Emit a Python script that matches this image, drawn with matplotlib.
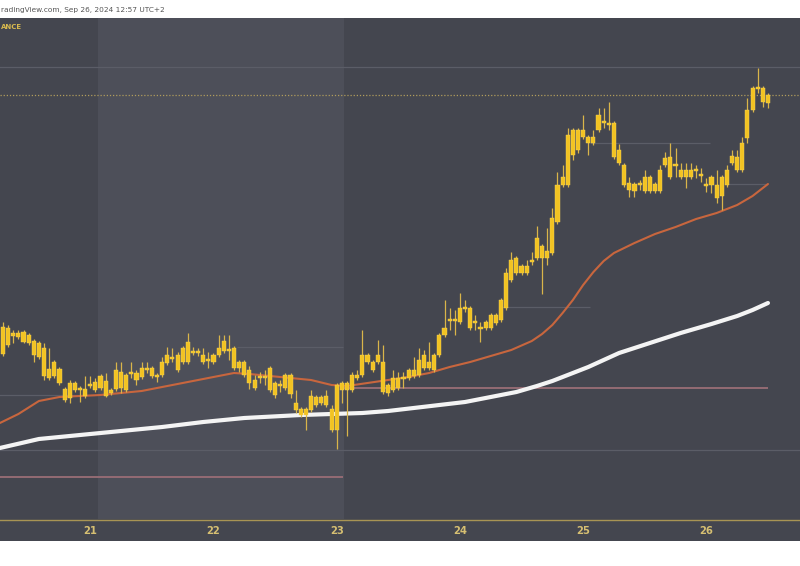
import matplotlib
matplotlib.use("Agg")
import matplotlib.pyplot as plt
import numpy as np

# Hourly candles, Sep 20 07:00 -> Sep 26 12:00 (index 0 .. 149)
opens = [246, 255, 264, 267, 268, 265, 259, 257, 252, 222, 238, 231, 200, 202, 217, 212, 204, 214, 210, 224,
         219, 207, 211, 228, 210, 228, 220, 223, 230, 232, 223, 225, 237, 243, 230, 238, 258, 249, 247, 245,
         239, 238, 245, 249, 251, 252, 238, 238, 230, 212, 222, 224, 232, 205, 214, 212, 225, 197, 191, 185,
         190, 203, 197, 204, 191, 170, 210, 217, 210, 222, 225, 245, 230, 238, 238, 207, 210, 212, 221, 222,
         224, 225, 232, 238, 230, 245, 265, 279, 281, 278, 291, 292, 277, 273, 272, 272, 277, 280, 292, 320,
         342, 327, 327, 338, 342, 354, 342, 347, 378, 415, 415, 470, 450, 470, 463, 457, 470, 479, 477, 477,
         450, 435, 417, 409, 415, 409, 423, 409, 409, 435, 443, 434, 430, 423, 430, 429, 426, 416, 423, 415,
         404, 415, 437, 443, 430, 462, 490, 511, 512, 497]
highs = [278, 275, 270, 270, 270, 267, 261, 259, 257, 252, 240, 233, 213, 220, 219, 214, 224, 224, 222, 226,
         227, 212, 238, 238, 227, 238, 230, 238, 238, 234, 227, 243, 253, 252, 248, 254, 267, 253, 252, 252,
         248, 247, 265, 265, 265, 254, 240, 240, 234, 225, 228, 230, 234, 219, 220, 227, 227, 210, 193, 193,
         210, 205, 205, 210, 195, 217, 219, 219, 228, 230, 270, 247, 240, 260, 255, 217, 230, 228, 228, 232,
         243, 252, 250, 258, 247, 267, 300, 292, 290, 307, 300, 294, 285, 278, 280, 287, 287, 302, 332, 348,
         344, 336, 340, 348, 374, 356, 372, 392, 428, 435, 472, 472, 472, 485, 465, 470, 492, 492, 498, 479,
         456, 437, 423, 418, 420, 430, 425, 418, 435, 448, 457, 452, 437, 437, 437, 435, 432, 422, 425, 430,
         425, 435, 450, 450, 463, 502, 514, 532, 514, 507]
lows = [244, 253, 257, 261, 257, 255, 238, 241, 220, 220, 222, 215, 198, 197, 208, 198, 202, 212, 208, 210,
        203, 205, 209, 207, 208, 222, 215, 221, 227, 222, 218, 223, 235, 238, 228, 236, 236, 245, 244, 236,
        232, 236, 243, 247, 240, 230, 228, 223, 211, 210, 217, 215, 208, 202, 208, 210, 202, 187, 183, 170,
        188, 193, 195, 193, 168, 151, 197, 164, 208, 220, 223, 236, 228, 236, 206, 204, 208, 210, 212, 220,
        222, 223, 230, 230, 228, 243, 263, 270, 265, 276, 288, 270, 270, 258, 270, 270, 275, 278, 290, 318,
        325, 325, 325, 335, 340, 306, 335, 345, 376, 413, 413, 440, 447, 461, 445, 455, 468, 472, 470, 441,
        435, 413, 403, 403, 410, 407, 407, 407, 407, 433, 421, 423, 421, 412, 421, 422, 418, 408, 407, 397,
        390, 413, 435, 428, 428, 457, 488, 507, 493, 492]
closes = [273, 272, 267, 263, 258, 257, 245, 243, 224, 231, 224, 217, 211, 217, 210, 210, 211, 216, 218, 212,
          204, 210, 230, 212, 225, 226, 227, 232, 232, 224, 225, 238, 245, 241, 245, 252, 238, 247, 249, 238,
          241, 245, 252, 259, 249, 232, 232, 225, 217, 220, 224, 222, 210, 217, 216, 225, 206, 190, 185, 191,
          204, 195, 203, 195, 170, 215, 217, 210, 225, 225, 245, 238, 238, 245, 208, 215, 222, 222, 223, 230,
          230, 240, 245, 232, 245, 265, 272, 281, 279, 292, 293, 272, 279, 271, 278, 285, 285, 300, 327, 340,
          327, 334, 334, 340, 362, 342, 349, 382, 415, 423, 465, 445, 470, 463, 457, 463, 485, 477, 475, 443,
          437, 415, 410, 416, 417, 423, 409, 416, 430, 442, 423, 436, 423, 430, 423, 431, 424, 414, 415, 402,
          423, 430, 444, 430, 457, 490, 512, 513, 498, 505]

# Moving averages, sampled along the candle index
ma_fast_idx = [-0.6, 3, 7, 11, 15, 19, 23, 27, 31, 35, 39, 43, 45, 48, 52, 56, 60, 64, 67, 71, 75, 79, 83,
               87, 91, 95, 99, 103, 105, 107, 109, 111, 113, 115, 117, 119, 121, 123, 127, 131, 135, 139,
               143, 146, 149]
ma_fast = [177, 186, 199, 203, 204, 205, 207, 209, 213, 217, 221, 225, 227, 226, 224, 222, 220, 215, 214, 217,
           220, 223, 227, 233, 238, 244, 250, 259, 266, 275, 287, 300, 315, 328, 339, 347, 352, 357, 366, 373,
           381, 387, 395, 404, 416]
ma_slow_idx = [-0.6, 7, 19, 31, 39, 47, 58, 70, 75, 80, 85, 90, 95, 100, 104, 107, 110, 114, 120, 126,
               132, 138, 143, 146, 149]
ma_slow = [152, 161, 167, 173, 178, 182, 185, 187, 189, 192, 195, 198, 203, 208, 214, 219, 225, 233, 247, 257,
           267, 276, 284, 290, 297]

# Day boundaries on the candle index and their labels
day_ticks = [17, 41, 65, 89, 113, 137]
day_labels = ["21", "22", "23", "24", "25", "26"]

# Shaded session and drawn levels: (price, start index, end index)
session_span = (18.5, 66.5)
last_price = closes[-1]
pink_levels = [(212, 66.2, 149.0), (123, -1.0, 66.2)]
grey_levels = [(533, -1.0, 156.0), (150, -1.0, 156.0), (253, 45.6, 66.2), (293, 96.8, 114.3),
               (457, 114.3, 137.7), (416, 141.0, 148.8), (205, -1.0, 18.0)]

BG = "#44464f"
SHADE = "#4d4f59"
CANDLE = "#f2c322"
WICK = "#d9b54a"
GOLD = "#d6bf72"

W, H = 800, 566
fig = plt.figure(figsize=(W / 100, H / 100), dpi=100, facecolor="white")

x_left, x_right = -0.584, 155.24
ax = fig.add_axes([0, (H - 519) / H, 1, 501 / H])
ax.set_facecolor(BG)
ax.set_xlim(x_left, x_right)
ax.set_ylim(81, 582)
for s in ax.spines.values():
    s.set_visible(False)
ax.set_xticks([])
ax.set_yticks([])

ax.axvspan(*session_span, color=SHADE, lw=0, zorder=0)

for p, a, b in grey_levels:
    ax.hlines(p, a, b, color="#5b5d67", lw=0.9, zorder=1)
for p, a, b in pink_levels:
    ax.hlines(p, a, b, color="#9a6e76", lw=1.3, zorder=1)
ax.axhline(last_price, color="#b09c5c", lw=0.9, ls=(0, (1, 1.5)), zorder=1)

ax.plot(ma_fast_idx, ma_fast, color="#c8663e", lw=1.5, zorder=2, solid_capstyle="round",
        solid_joinstyle="round")
ax.plot(ma_slow_idx, ma_slow, color="#f4f4f4", lw=3.0, zorder=2, solid_capstyle="round",
        solid_joinstyle="round")

idx = np.arange(len(closes))
o = np.array(opens, float)
c = np.array(closes, float)
ax.vlines(idx, lows, highs, color=WICK, lw=0.9, zorder=3)
bottom = np.minimum(o, c)
height = np.maximum(np.abs(c - o), 1.8)
ax.bar(idx, height, bottom=bottom, width=0.8, color=CANDLE, edgecolor="#f7d65a",
       linewidth=0.3, zorder=4)

# Time axis strip
axt = fig.add_axes([0, (H - 541) / H, 1, 22 / H])
axt.set_facecolor(BG)
axt.set_xlim(x_left, x_right)
axt.set_ylim(0, 1)
for s in axt.spines.values():
    s.set_visible(False)
axt.set_xticks([])
axt.set_yticks([])
for xt, lab in zip(day_ticks, day_labels):
    axt.text(xt, 0.45, lab, ha="center", va="center", fontsize=8, color=GOLD,
             fontweight="bold", fontstretch="condensed")
axt.axhline(0.95, color="#a89454", lw=1.0)

fig.text(0.001, 1 - 10 / H, "radingView.com, Sep 26, 2024 12:57 UTC+2", fontsize=5.3,
         color="#555555", ha="left", va="center")
fig.text(0.001, 1 - 27 / H, "ANCE", fontsize=5.0, color="#d8b94e", fontweight="bold",
         ha="left", va="center")

fig.savefig("out.png", dpi=100, facecolor="white")
